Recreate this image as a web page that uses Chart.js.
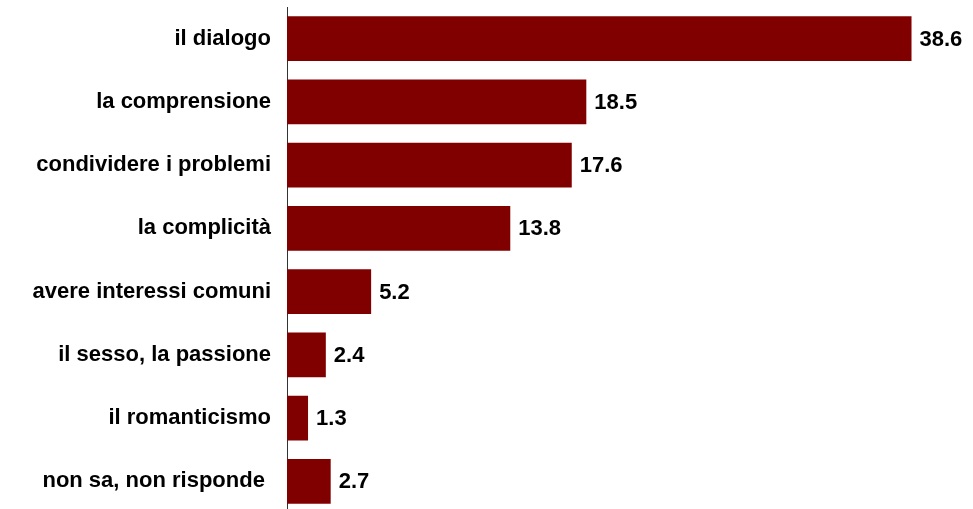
<!DOCTYPE html>
<html>
<head>
<meta charset="utf-8">
<script src="https://cdn.jsdelivr.net/npm/chart.js@4.4.0/dist/chart.umd.min.js"></script>
<style>
html,body{margin:0;padding:0;background:#fff;overflow:hidden;}
#wrap{position:relative;width:973px;height:513px;}
</style>
</head>
<body>
<div id="wrap"><canvas id="c"></canvas></div>
<script>
const categories = ["il dialogo","la comprensione","condividere i problemi","la complicità","avere interessi comuni","il sesso, la passione","il romanticismo","non sa, non risponde "];
const values = [38.6, 18.5, 17.6, 13.8, 5.2, 2.4, 1.3, 2.7];
const valueLabels = ["38.6","18.5","17.6","13.8","5.2","2.4","1.3","2.7"];

const FONT = '"Liberation Sans", Arial, sans-serif';

const valuePlugin = {
  id: 'valueLabels',
  afterDatasetsDraw(chart) {
    const ctx = chart.ctx;
    const meta = chart.getDatasetMeta(0);
    ctx.save();
    ctx.font = 'bold 22px ' + FONT;
    ctx.fillStyle = '#000';
    ctx.textAlign = 'left';
    ctx.textBaseline = 'middle';
    meta.data.forEach((bar, i) => {
      ctx.fillText(valueLabels[i], bar.x + 8, bar.y + 1);
    });
    ctx.restore();
  }
};

new Chart(document.getElementById('c'), {
  type: 'bar',
  data: {
    labels: categories,
    datasets: [{
      data: values,
      backgroundColor: '#800000',
      borderWidth: 0,
      barPercentage: 0.71,
      categoryPercentage: 1.0
    }]
  },
  options: {
    indexAxis: 'y',
    responsive: true,
    maintainAspectRatio: false,
    animation: false,
    layout: { padding: { top: 7, right: 0, bottom: 0, left: 0 } },
    plugins: { legend: { display: false }, tooltip: { enabled: false } },
    scales: {
      x: {
        display: false,
        min: 0,
        max: 42.4
      },
      y: {
        afterFit(scale) { scale.width = 287; scale.paddingTop = 0; scale.paddingBottom = 0; },
        grid: { display: false, drawTicks: false },
        border: { display: true, color: '#333', width: 1 },
        ticks: {
          padding: 16,
          color: '#000',
          font: { family: FONT, size: 22, weight: 'bold' }
        }
      }
    }
  },
  plugins: [valuePlugin]
});
</script>
</body>
</html>
